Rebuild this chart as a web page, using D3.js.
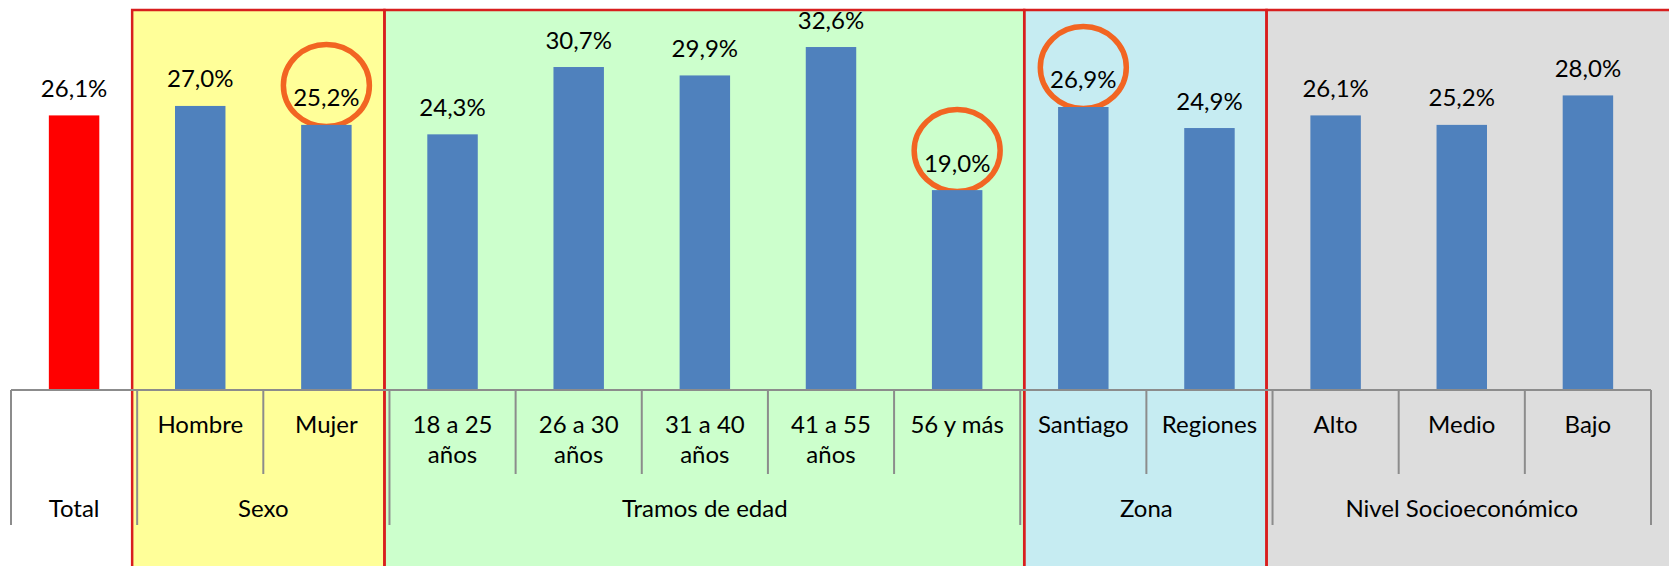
<!DOCTYPE html>
<html>
<head>
<meta charset="utf-8">
<script src="https://cdn.jsdelivr.net/npm/d3@7"></script>
<style>
  html, body { margin: 0; padding: 0; background: #ffffff; }
  svg { display: block; }
  text { font-family: Lato, "Open Sans", sans-serif; fill: #000; }
</style>
</head>
<body>
<svg id="chart" width="1669" height="566"></svg>
<script>
// ---- data ----
const categories = ["Total", "Hombre", "Mujer", "18 a 25\naños", "26 a 30\naños", "31 a 40\naños",
                    "41 a 55\naños", "56 y más", "Santiago", "Regiones", "Alto", "Medio", "Bajo"];
const values = [26.1, 27.0, 25.2, 24.3, 30.7, 29.9, 32.6, 19.0, 26.9, 24.9, 26.1, 25.2, 28.0];
const groups = ["Total", "Sexo", "Tramos de edad", "Zona", "Nivel Socioeconómico"];
const groupSizes = [1, 2, 5, 2, 3];
const groupFills = [null, "#FFFF99", "#CCFFCC", "#C6ECF2", "#DDDDDD"];
const highlighted = ["Mujer", "56 y más", "Santiago"];

// ---- layout ----
const W = 1669, H = 566;
const axisY = 390;
const svg = d3.select("#chart");

const x = d3.scaleBand().domain(categories).range([11, 1651]).padding(0);
const y = d3.scaleLinear().domain([0, 37.07]).range([axisY, 0]);
const step = x.step();
const barW = step * 0.4;
const fmt = v => d3.format(".1f")(v).replace(".", ",") + "%";

// group boundaries (in category index)
const starts = [];
groupSizes.reduce((acc, s) => { starts.push(acc); return acc + s; }, 0);
const gInfo = groups.map((g, i) => ({
  name: g, fill: groupFills[i],
  x0: x.range()[0] + starts[i] * step,
  x1: x.range()[0] + (starts[i] + groupSizes[i]) * step
}));

// background boxes (hand-placed highlight boxes, slightly offset from group bounds)
const boxes = gInfo.filter(d => d.fill);
const leftShift = [-5, -5, 4, -6];
const boxX0 = (d, i) => d.x0 + leftShift[i];
const boxX1 = (d, i) => (i === boxes.length - 1 ? W + 10 : boxX0(boxes[i + 1], i + 1));
svg.append("g").selectAll("rect").data(boxes).join("rect")
  .attr("x", boxX0).attr("y", 10)
  .attr("width", (d, i) => boxX1(d, i) - boxX0(d, i))
  .attr("height", H)
  .attr("fill", d => d.fill);
svg.append("g").selectAll("rect").data(boxes).join("rect")
  .attr("x", boxX0).attr("y", 10)
  .attr("width", (d, i) => boxX1(d, i) - boxX0(d, i))
  .attr("height", H)
  .attr("fill", "none").attr("stroke", "#d81e1e").attr("stroke-width", 2.5);

const data = categories.map((c, i) => ({ c, v: values[i], i }));

// highlight circles (behind bars and labels)
svg.append("g").selectAll("ellipse").data(data.filter(d => highlighted.includes(d.c))).join("ellipse")
  .attr("cx", d => x(d.c) + step / 2)
  .attr("cy", d => y(d.v) - 39.5)
  .attr("rx", 43).attr("ry", 41)
  .attr("fill", "none").attr("stroke", "#F26522").attr("stroke-width", 5.5);

// bars
svg.append("g").selectAll("rect").data(data).join("rect")
  .attr("x", d => x(d.c) + (step - barW) / 2)
  .attr("y", d => y(d.v))
  .attr("width", barW)
  .attr("height", d => y(0) - y(d.v))
  .attr("fill", d => d.i === 0 ? "#FF0000" : "#4F81BD");

// value labels
svg.append("g").selectAll("text").data(data).join("text")
  .attr("x", d => x(d.c) + step / 2)
  .attr("y", d => y(d.v) - 18.5)
  .attr("text-anchor", "middle")
  .attr("font-size", 24)
  .text(d => fmt(d.v));

// axis line
const tickColor = "#8c8c8c";
svg.append("line")
  .attr("x1", x.range()[0]).attr("x2", x.range()[1])
  .attr("y1", axisY).attr("y2", axisY)
  .attr("stroke", tickColor).attr("stroke-width", 2.2);

// ticks: inner (category) and outer (group) boundaries
const groupBounds = new Set(starts.concat([categories.length]));
const bounds = d3.range(categories.length + 1);
svg.append("g").selectAll("line").data(bounds).join("line")
  .attr("x1", b => x.range()[0] + b * step)
  .attr("x2", b => x.range()[0] + b * step)
  .attr("y1", axisY)
  .attr("y2", b => groupBounds.has(b) ? 525 : 474)
  .attr("stroke", tickColor).attr("stroke-width", 2);

// category labels (first row, except single-category group "Total")
const catLabels = data.filter(d => d.i !== 0);
const ct = svg.append("g").selectAll("text").data(catLabels).join("text")
  .attr("text-anchor", "middle")
  .attr("font-size", 24);
ct.each(function(d) {
  const lines = d.c.split("\n");
  d3.select(this).selectAll("tspan").data(lines).join("tspan")
    .attr("x", x(d.c) + step / 2)
    .attr("y", (l, k) => 433 + k * 30)
    .text(l => l);
});

// group labels
svg.append("g").selectAll("text").data(gInfo).join("text")
  .attr("x", d => (d.x0 + d.x1) / 2)
  .attr("y", 517)
  .attr("text-anchor", "middle")
  .attr("font-size", 24)
  .text(d => d.name);
</script>
</body>
</html>
